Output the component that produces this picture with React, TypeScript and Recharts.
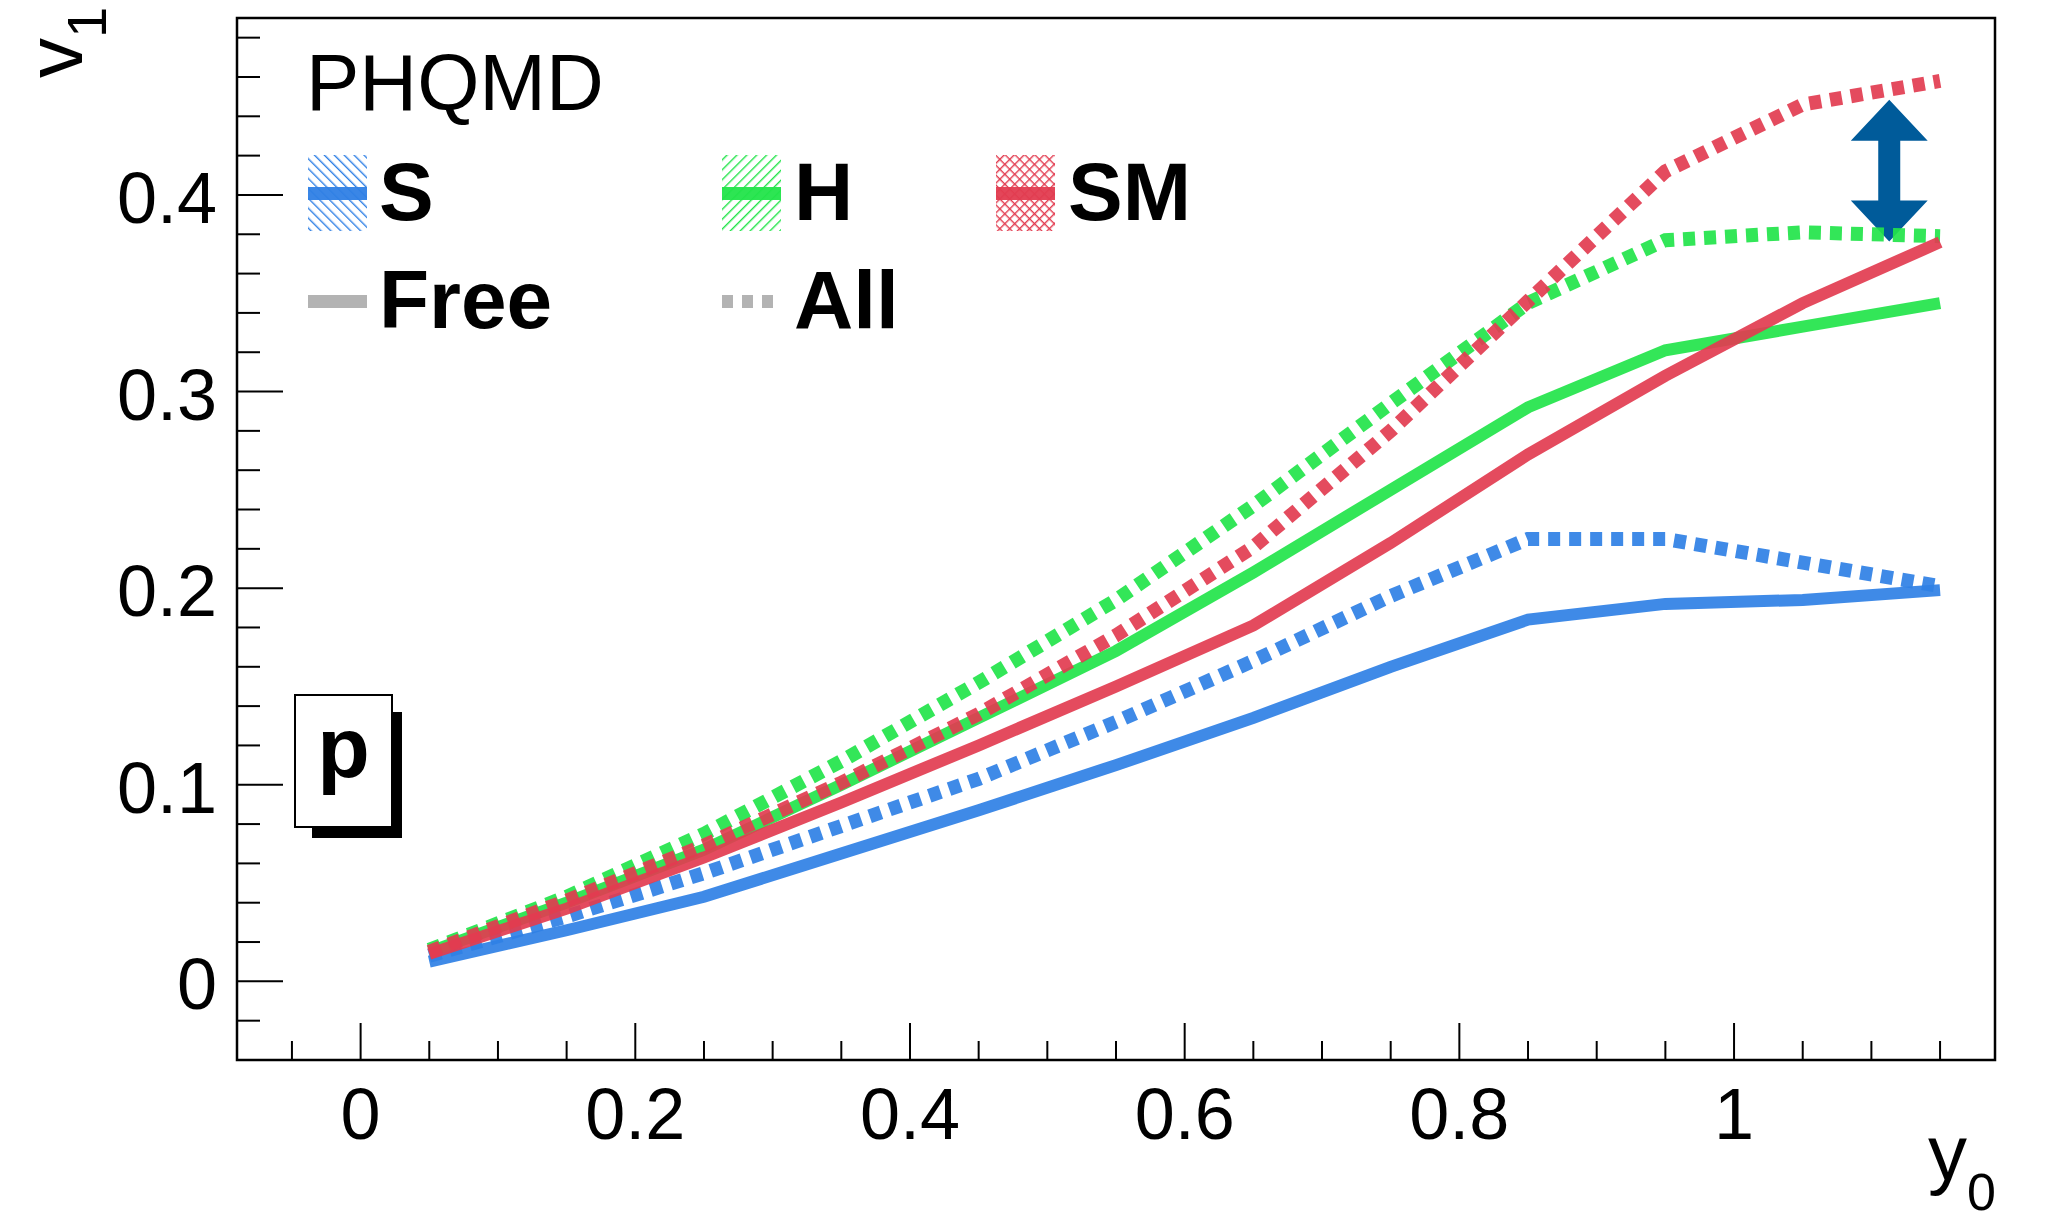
import { LineChart, Line, XAxis, YAxis, ReferenceArea } from "recharts";

const FONT = '"Liberation Sans", Arial, Helvetica, sans-serif';

// rapidity bins (y0)
const y0 = [0.05, 0.15, 0.25, 0.35, 0.45, 0.55, 0.65, 0.75, 0.85, 0.95, 1.05, 1.15];

// v1 of protons, Free and All, per EoS
const sFree = [0.010, 0.026, 0.043, 0.065, 0.087, 0.110, 0.134, 0.160, 0.184, 0.192, 0.194, 0.199];
const sAll = [0.013, 0.033, 0.055, 0.079, 0.103, 0.132, 0.163, 0.196, 0.225, 0.225, 0.213, 0.201];
const hFree = [0.015, 0.040, 0.067, 0.100, 0.134, 0.168, 0.208, 0.250, 0.292, 0.321, 0.333, 0.345];
const hAll = [0.016, 0.043, 0.075, 0.112, 0.152, 0.194, 0.242, 0.294, 0.345, 0.377, 0.381, 0.379];
const smFree = [0.014, 0.037, 0.063, 0.091, 0.120, 0.150, 0.181, 0.223, 0.268, 0.308, 0.345, 0.376];
const smAll = [0.015, 0.041, 0.069, 0.101, 0.136, 0.176, 0.221, 0.280, 0.346, 0.412, 0.446, 0.458];

const xDomain = [-0.09, 1.19];
const yDomain = [-0.04, 0.49];

const xTicks = [
  -0.05, 0, 0.05, 0.1, 0.15, 0.2, 0.25, 0.3, 0.35, 0.4, 0.45, 0.5, 0.55,
  0.6, 0.65, 0.7, 0.75, 0.8, 0.85, 0.9, 0.95, 1, 1.05, 1.1, 1.15,
];
const xMajor = [0, 0.2, 0.4, 0.6, 0.8, 1];
const xLabels = ["0", "0.2", "0.4", "0.6", "0.8", "1"];

const yTicks = [
  -0.02, 0, 0.02, 0.04, 0.06, 0.08, 0.1, 0.12, 0.14, 0.16, 0.18, 0.2, 0.22,
  0.24, 0.26, 0.28, 0.3, 0.32, 0.34, 0.36, 0.38, 0.4, 0.42, 0.44, 0.46, 0.48,
];
const yMajor = [0, 0.1, 0.2, 0.3, 0.4];
const yLabels = ["0", "0.1", "0.2", "0.3", "0.4"];

// double arrow between SM All and H All at the last bins
const arrowX = [1.085, 1.141];
const arrowY = [0.3763, 0.4484];

const BLUE = "#2f80e5";
const GREEN = "#22e44a";
const RED = "#e23c50";
const GREY = "#b3b3b3";
const ARROW = "#005b9a";

const rows = y0.map((x, i) => ({
  y0: x,
  sFree: sFree[i],
  sAll: sAll[i],
  hFree: hFree[i],
  hAll: hAll[i],
  smFree: smFree[i],
  smAll: smAll[i],
}));

const series = [
  { key: "sFree", color: BLUE, dotted: false },
  { key: "sAll", color: BLUE, dotted: true },
  { key: "hFree", color: GREEN, dotted: false },
  { key: "hAll", color: GREEN, dotted: true },
  { key: "smFree", color: RED, dotted: false },
  { key: "smAll", color: RED, dotted: true },
];

const majorIndex = (list: number[], v: number) =>
  list.findIndex((m) => Math.abs(m - v) < 1e-6);

const XTick = (props: any) => {
  const { x, y, payload } = props;
  const idx = majorIndex(xMajor, payload.value);
  const major = idx >= 0;
  return (
    <g>
      <line x1={x} x2={x} y1={y} y2={y - (major ? 37 : 19)} stroke="#000" strokeWidth={2} />
      {major && (
        <text x={x} y={y + 79} textAnchor="middle" fontSize={72} fontFamily={FONT} fill="#000">
          {xLabels[idx]}
        </text>
      )}
    </g>
  );
};

const YTick = (props: any) => {
  const { x, y, payload } = props;
  const idx = majorIndex(yMajor, payload.value);
  const major = idx >= 0;
  return (
    <g>
      <line x1={x} x2={x + (major ? 46 : 23)} y1={y} y2={y} stroke="#000" strokeWidth={2} />
      {major && (
        <text x={x - 20} y={y + 28} textAnchor="end" fontSize={72} fontFamily={FONT} fill="#000">
          {yLabels[idx]}
        </text>
      )}
    </g>
  );
};

const DoubleArrow = (props: any) => {
  const { x, y, width, height } = props;
  const cx = x + width / 2;
  const hw = width / 2;
  const sw = 11;
  const head = 41;
  const top = y;
  const bot = y + height;
  const pts = [
    [cx, top],
    [cx + hw, top + head],
    [cx + sw, top + head],
    [cx + sw, bot - head],
    [cx + hw, bot - head],
    [cx, bot],
    [cx - hw, bot - head],
    [cx - sw, bot - head],
    [cx - sw, top + head],
    [cx - hw, top + head],
  ]
    .map((p) => p.join(","))
    .join(" ");
  return <polygon points={pts} fill={ARROW} />;
};

function LegendBox({ x, pattern, color }: { x: number; pattern: string; color: string }) {
  return (
    <g>
      <rect x={x} y={155} width={59} height={76} fill={`url(#${pattern})`} />
      <rect x={x} y={187} width={59} height={13} fill={color} opacity={0.95} />
    </g>
  );
}

function Overlay() {
  const big = { fontFamily: FONT, fontSize: 82, fontWeight: 700, fill: "#000" } as const;
  return (
    <svg
      width={2054}
      height={1225}
      style={{ position: "absolute", left: 0, top: 0, pointerEvents: "none" }}
    >
      <defs>
        <pattern id="hatchS" width="7" height="7" patternUnits="userSpaceOnUse" patternTransform="rotate(-45)">
          <line x1="0" y1="0" x2="0" y2="7" stroke={BLUE} strokeWidth="2.8" />
        </pattern>
        <pattern id="hatchH" width="7" height="7" patternUnits="userSpaceOnUse" patternTransform="rotate(45)">
          <line x1="0" y1="0" x2="0" y2="7" stroke={GREEN} strokeWidth="2.8" />
        </pattern>
        <pattern id="hatchSM" width="7" height="7" patternUnits="userSpaceOnUse" patternTransform="rotate(45)">
          <line x1="0" y1="0" x2="0" y2="7" stroke={RED} strokeWidth="2.8" />
          <line x1="0" y1="0" x2="7" y2="0" stroke={RED} strokeWidth="2.8" />
        </pattern>
      </defs>

      <text x={306} y={110} fontFamily={FONT} fontSize={80} fill="#000">
        PHQMD
      </text>

      <LegendBox x={308} pattern="hatchS" color={BLUE} />
      <text x={379} y={220} {...big}>S</text>
      <LegendBox x={722} pattern="hatchH" color={GREEN} />
      <text x={794} y={220} {...big}>H</text>
      <LegendBox x={996} pattern="hatchSM" color={RED} />
      <text x={1068} y={220} {...big}>SM</text>

      <rect x={308} y={295} width={59} height={13} fill={GREY} />
      <text x={379} y={328} {...big}>Free</text>
      <line x1={722} x2={776} y1={301.5} y2={301.5} stroke={GREY} strokeWidth={13} strokeDasharray="11 9" />
      <text x={794} y={328} {...big}>All</text>

      {/* particle label */}
      <rect x={312} y={712} width={90} height={126} fill="#000" />
      <rect x={295} y={695} width={97} height={132} fill="#fff" stroke="#000" strokeWidth={2} />
      <text x={343.5} y={777} textAnchor="middle" fontFamily={FONT} fontSize={86} fontWeight={700} fill="#000">
        p
      </text>

      {/* axis titles */}
      <text transform="translate(82,78) rotate(-90)" fontFamily={FONT} fontSize={80} fill="#000">
        v
        <tspan fontSize={56} dy={24}>1</tspan>
      </text>
      <text x={1928} y={1180} fontFamily={FONT} fontSize={78} fill="#000">
        y
        <tspan fontSize={52} dy={30}>0</tspan>
      </text>
    </svg>
  );
}

export default function App() {
  return (
    <div
      style={{
        position: "absolute",
        left: 0,
        top: 0,
        width: 2054,
        height: 1225,
        background: "#fff",
        fontFamily: FONT,
      }}
    >
      <LineChart width={2054} height={1225} data={rows} margin={{ top: 18, right: 59, bottom: 0, left: 0 }}>
        <XAxis
          type="number"
          dataKey="y0"
          domain={xDomain}
          allowDataOverflow
          ticks={xTicks}
          interval={0}
          tickLine={false}
          axisLine={false}
          tickSize={0}
          tickMargin={0}
          height={165}
          tick={(p: any) => <XTick {...p} />}
        />
        <YAxis
          type="number"
          domain={yDomain}
          allowDataOverflow
          ticks={yTicks}
          interval={0}
          tickLine={false}
          axisLine={false}
          tickSize={0}
          tickMargin={0}
          width={237}
          tick={(p: any) => <YTick {...p} />}
        />
        <ReferenceArea
          x1={xDomain[0]}
          x2={xDomain[1]}
          y1={yDomain[0]}
          y2={yDomain[1]}
          fill="none"
          fillOpacity={0}
          stroke="#000"
          strokeWidth={2.5}
        />
        {series.map((s) => (
          <Line
            key={s.key}
            type="linear"
            dataKey={s.key}
            stroke={s.color}
            strokeOpacity={0.92}
            strokeWidth={s.dotted ? 14 : 12}
            strokeDasharray={s.dotted ? "12 9" : undefined}
            dot={false}
            activeDot={false}
            isAnimationActive={false}
          />
        ))}
        <ReferenceArea
          x1={arrowX[0]}
          x2={arrowX[1]}
          y1={arrowY[0]}
          y2={arrowY[1]}
          shape={(p: any) => <DoubleArrow {...p} />}
        />
      </LineChart>
      <Overlay />
    </div>
  );
}
